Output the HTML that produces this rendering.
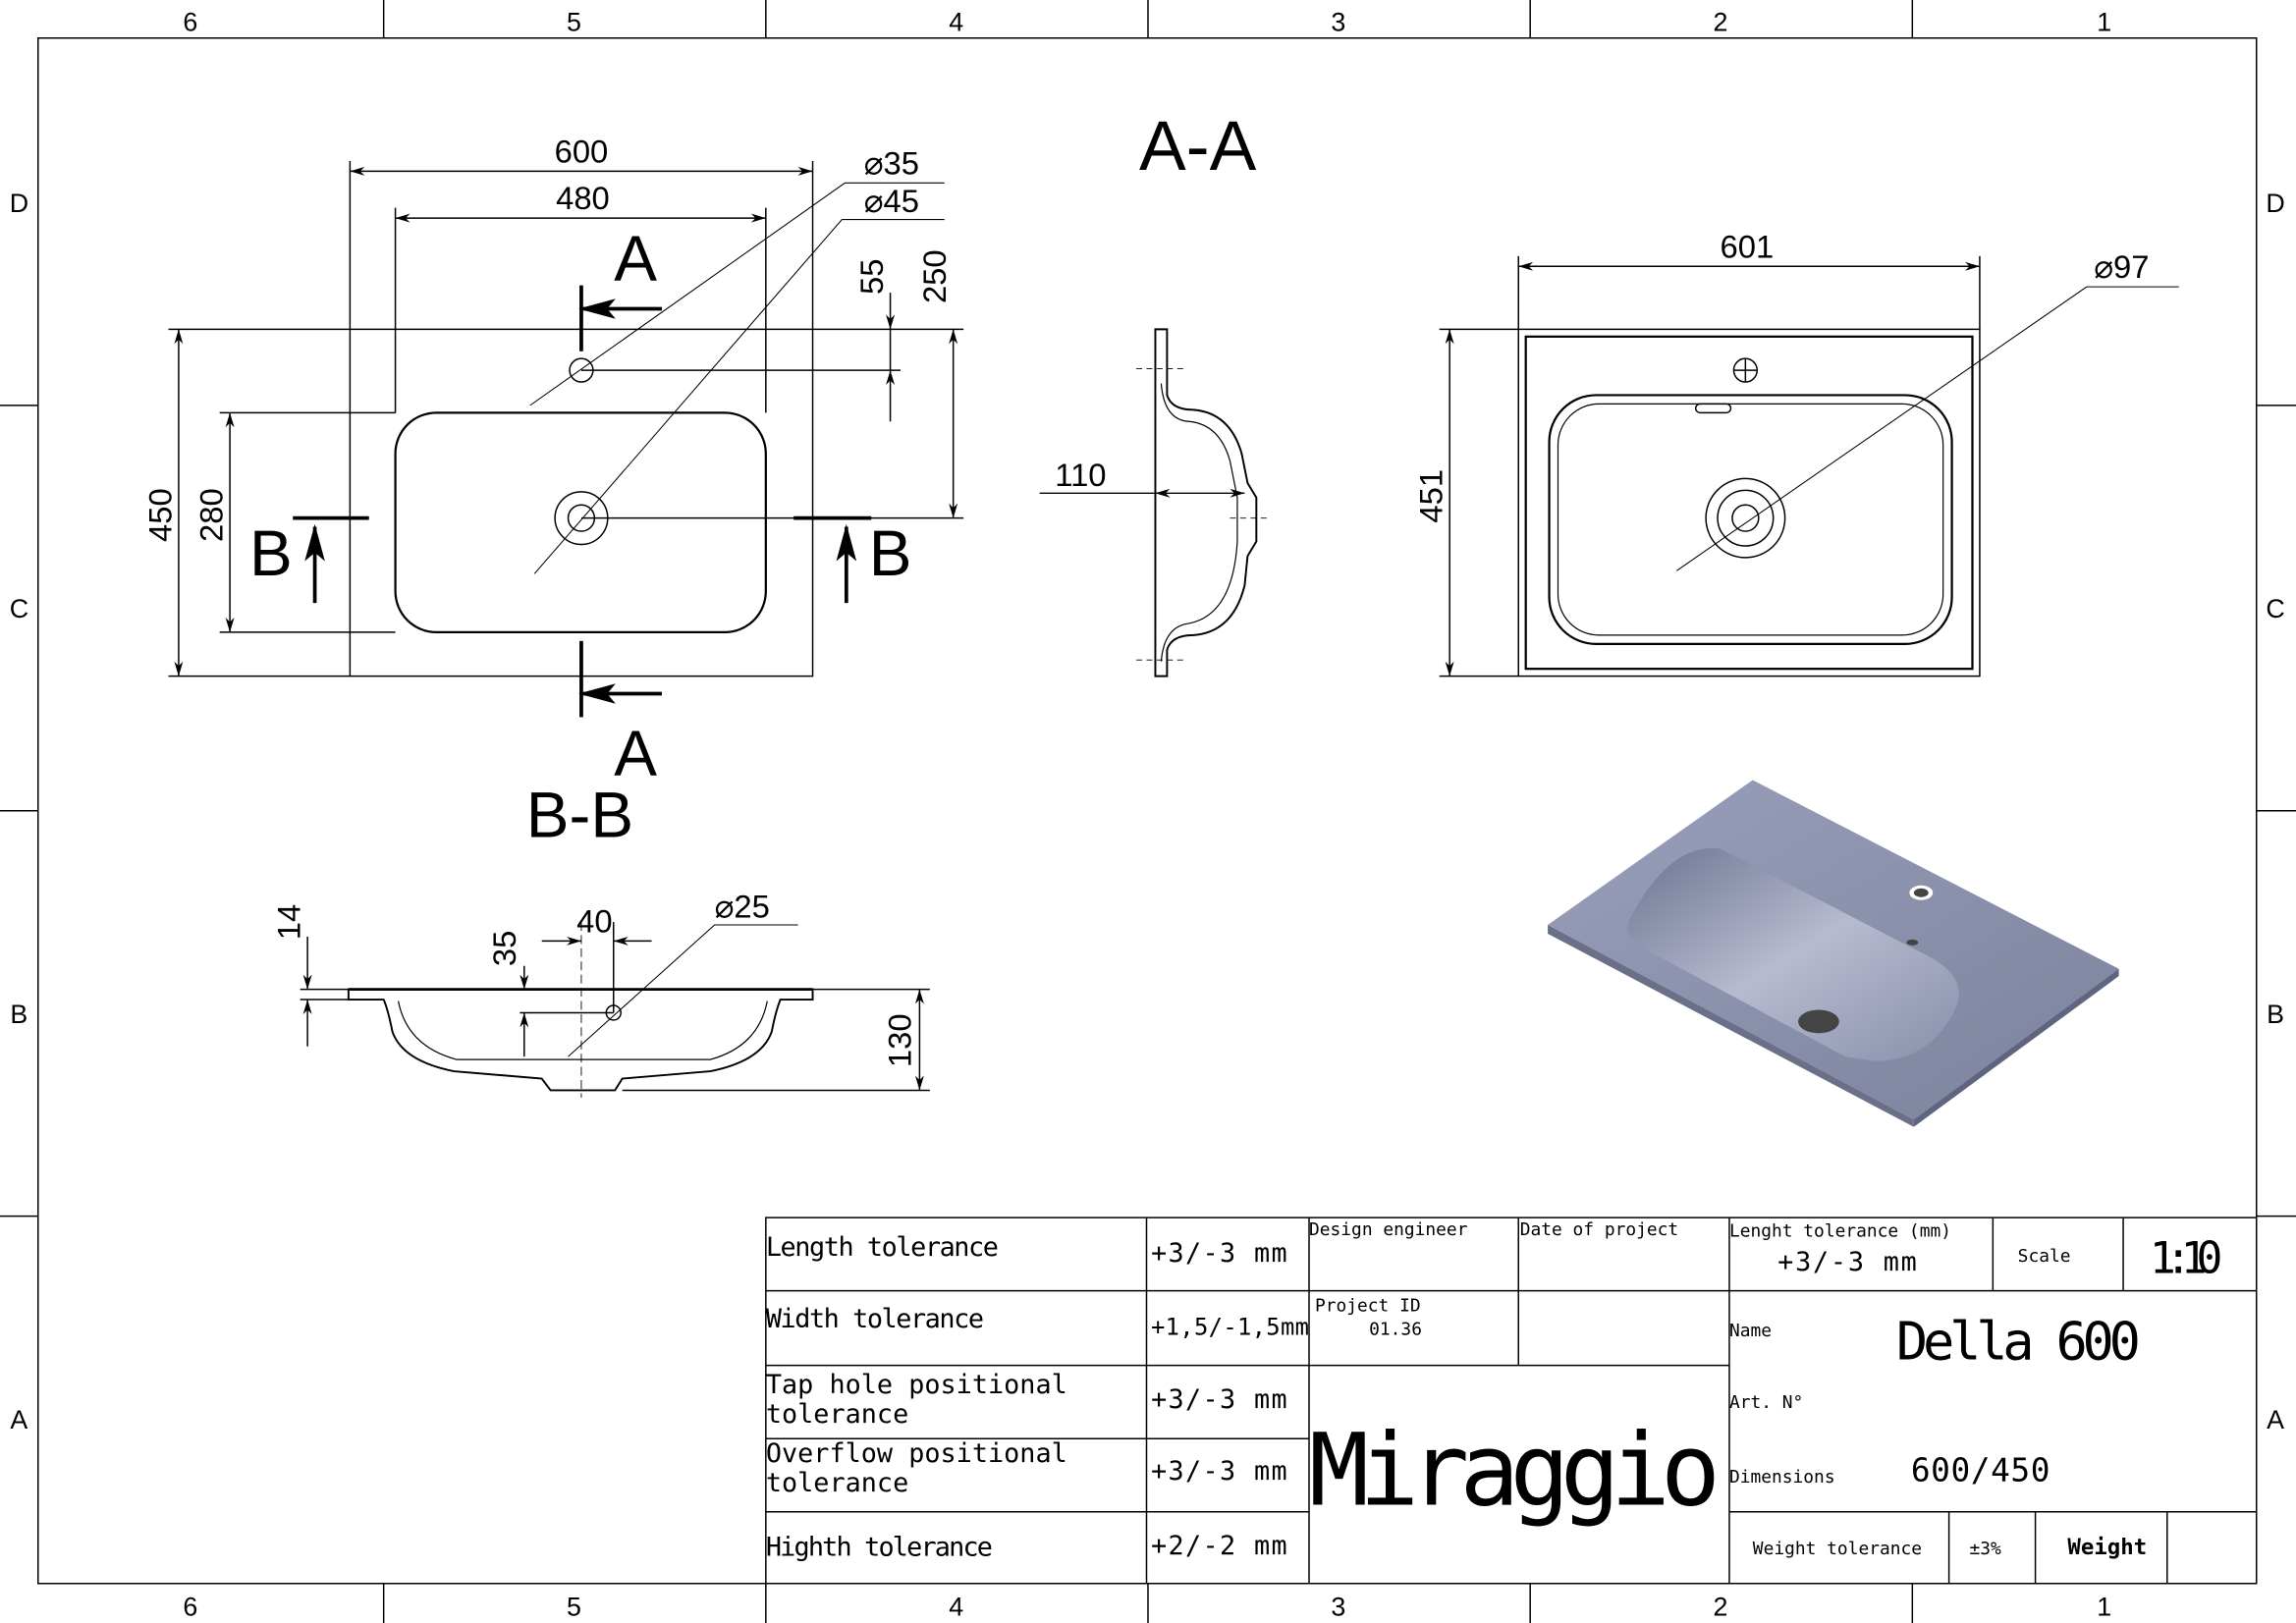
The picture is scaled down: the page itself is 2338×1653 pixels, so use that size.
<!DOCTYPE html>
<html><head><meta charset="utf-8"><style>
html,body{margin:0;padding:0;background:#fff;}
svg{display:block;}
text{font-family:"Liberation Sans",sans-serif;fill:#000;}
text.m{font-family:"DejaVu Sans Mono","Liberation Mono",monospace;}
</style></head><body>
<svg width="2338" height="1653" viewBox="0 0 1568 1109" preserveAspectRatio="none" xmlns="http://www.w3.org/2000/svg">
<defs>
<marker id="a" viewBox="0 0 10 6" refX="10" refY="3" markerWidth="10" markerHeight="6" orient="auto-start-reverse" markerUnits="userSpaceOnUse"><path d="M0,0 L10,3 L0,6 L3,3 z" fill="#000"/></marker>
<linearGradient id="g" x1="0" y1="0" x2="1" y2="1"><stop offset="0" stop-color="#9aa0bb"/><stop offset="1" stop-color="#7c819c"/></linearGradient>
<linearGradient id="g2" x1="0" y1="0" x2="1" y2="1"><stop offset="0" stop-color="#6d7290"/><stop offset="0.5" stop-color="#b6bbd0"/><stop offset="1" stop-color="#8a8fab"/></linearGradient>
</defs>
<g fill="none" stroke="#000" stroke-width="1">
<rect x="26" y="26" width="1515" height="1056"/>
<line x1="262" y1="0" x2="262" y2="26"/><line x1="523" y1="0" x2="523" y2="26"/><line x1="784" y1="0" x2="784" y2="26"/><line x1="1045" y1="0" x2="1045" y2="26"/><line x1="1306" y1="0" x2="1306" y2="26"/>
<line x1="262" y1="1082" x2="262" y2="1109"/><line x1="523" y1="1082" x2="523" y2="1109"/><line x1="784" y1="1082" x2="784" y2="1109"/><line x1="1045" y1="1082" x2="1045" y2="1109"/><line x1="1306" y1="1082" x2="1306" y2="1109"/>
<line x1="0" y1="277" x2="26" y2="277"/><line x1="0" y1="554" x2="26" y2="554"/><line x1="0" y1="831" x2="26" y2="831"/>
<line x1="1541" y1="277" x2="1568" y2="277"/><line x1="1541" y1="554" x2="1568" y2="554"/><line x1="1541" y1="831" x2="1568" y2="831"/>

<rect x="239" y="225" width="316" height="237"/>
<rect x="270" y="282" width="253" height="150" rx="28" stroke-width="1.5"/>
<circle cx="397" cy="253" r="8"/><circle cx="397" cy="354" r="18"/><circle cx="397" cy="354" r="9"/>
<line x1="239" y1="110" x2="239" y2="225"/><line x1="555" y1="110" x2="555" y2="225"/>
<line x1="239" y1="117" x2="555" y2="117" marker-start="url(#a)" marker-end="url(#a)"/>
<line x1="270" y1="142" x2="270" y2="282"/><line x1="523" y1="142" x2="523" y2="282"/>
<line x1="270" y1="149" x2="523" y2="149" marker-start="url(#a)" marker-end="url(#a)"/>
<line x1="115" y1="225" x2="239" y2="225"/><line x1="115" y1="462" x2="239" y2="462"/>
<line x1="122" y1="225" x2="122" y2="462" marker-start="url(#a)" marker-end="url(#a)"/>
<line x1="150" y1="282" x2="270" y2="282"/><line x1="150" y1="432" x2="270" y2="432"/>
<line x1="157" y1="282" x2="157" y2="432" marker-start="url(#a)" marker-end="url(#a)"/>
<line x1="555" y1="225" x2="658" y2="225"/><line x1="397" y1="354" x2="658" y2="354"/><line x1="397" y1="253" x2="615" y2="253"/>
<line x1="651" y1="225" x2="651" y2="354" marker-start="url(#a)" marker-end="url(#a)"/>
<line x1="608" y1="200" x2="608" y2="225" marker-end="url(#a)"/><line x1="608" y1="288" x2="608" y2="253" marker-end="url(#a)"/>
<line x1="608" y1="225" x2="608" y2="253"/>
<polyline points="362,277 577,125 645,125" stroke-width="0.7"/>
<polyline points="365,392 575,150 645,150" stroke-width="0.7"/>
<g stroke-width="2.5"><line x1="397" y1="195" x2="397" y2="240"/><line x1="397" y1="438" x2="397" y2="490"/>
<line x1="200" y1="354" x2="252" y2="354"/><line x1="542" y1="354" x2="595" y2="354"/>
<line x1="397" y1="211" x2="452" y2="211"/><line x1="397" y1="474" x2="452" y2="474"/>
<line x1="215" y1="360" x2="215" y2="412"/><line x1="578" y1="360" x2="578" y2="412"/></g>
<path d="M397,211 l22,-6 l-5,6 l5,6z M397,474 l22,-6 l-5,6 l5,6z M215,360 l-6,22 l6,-5 l6,5z M578,360 l-6,22 l6,-5 l6,5z" fill="#000"/>

<path d="M789,225 L797,225 L797,270 Q800,280 815,280 Q840,282 848,310 L852,330 L858,340 L858,370 L852,380 L850,400 Q842,432 815,434 Q800,434 797,444 L797,462 L789,462 Z" stroke-width="1.3"/>
<path d="M793,262 Q795,287 812,288 Q833,290 840,315 L845,340 L845,370 Q842,420 812,426 Q795,428 793,452" stroke-width="0.8"/>
<line x1="776" y1="252" x2="810" y2="252" stroke-dasharray="4 3" stroke-width="0.6"/>
<line x1="776" y1="451" x2="810" y2="451" stroke-dasharray="4 3" stroke-width="0.6"/>
<line x1="840" y1="354" x2="866" y2="354" stroke-dasharray="4 3" stroke-width="0.6"/>
<line x1="710" y1="337" x2="789" y2="337"/>
<line x1="789" y1="337" x2="850" y2="337" marker-start="url(#a)" marker-end="url(#a)"/>

<rect x="1037" y="225" width="315" height="237"/>
<rect x="1042" y="230" width="305" height="227" stroke-width="1.5"/>
<rect x="1058" y="270" width="275" height="170" rx="32" stroke-width="1.5"/>
<rect x="1064" y="276" width="263" height="158" rx="28" stroke-width="0.8"/>
<circle cx="1192" cy="253" r="8"/><line x1="1184" y1="253" x2="1200" y2="253"/><line x1="1192" y1="245" x2="1192" y2="261"/>
<rect x="1158" y="276" width="24" height="6" rx="3"/>
<circle cx="1192" cy="354" r="27"/><circle cx="1192" cy="354" r="19"/><circle cx="1192" cy="354" r="9"/>
<line x1="1037" y1="175" x2="1037" y2="225"/><line x1="1352" y1="175" x2="1352" y2="225"/>
<line x1="1037" y1="182" x2="1352" y2="182" marker-start="url(#a)" marker-end="url(#a)"/>
<line x1="983" y1="225" x2="1037" y2="225"/><line x1="983" y1="462" x2="1037" y2="462"/>
<line x1="990" y1="225" x2="990" y2="462" marker-start="url(#a)" marker-end="url(#a)"/>
<polyline points="1145,390 1425,196 1488,196" stroke-width="0.7"/>

<path d="M238,676 L238,683 L262,683 Q265,690 268,705 Q275,725 310,732 L370,737 L376,745 L420,745 L425,737 L485,732 Q520,725 527,705 Q530,690 533,683 L555,683 L555,676 Z" stroke-width="1.3"/>
<line x1="238" y1="676" x2="555" y2="676" stroke-width="1.8"/>
<path d="M272,684 Q278,715 312,724 L485,724 Q518,715 524,684" stroke-width="0.8"/>
<circle cx="419" cy="692" r="5"/>
<line x1="205" y1="676" x2="238" y2="676"/><line x1="205" y1="683" x2="238" y2="683"/>
<line x1="210" y1="640" x2="210" y2="676" marker-end="url(#a)"/><line x1="210" y1="715" x2="210" y2="683" marker-end="url(#a)"/>
<line x1="555" y1="676" x2="635" y2="676"/><line x1="425" y1="745" x2="635" y2="745"/>
<line x1="628" y1="676" x2="628" y2="745" marker-start="url(#a)" marker-end="url(#a)"/>
<line x1="355" y1="692" x2="419" y2="692"/>
<line x1="358" y1="660" x2="358" y2="676" marker-end="url(#a)"/><line x1="358" y1="722" x2="358" y2="692" marker-end="url(#a)"/>
<line x1="397" y1="630" x2="397" y2="750" stroke-dasharray="6 3" stroke-width="0.6"/>
<line x1="419" y1="630" x2="419" y2="692"/>
<line x1="370" y1="643" x2="397" y2="643" marker-end="url(#a)"/><line x1="445" y1="643" x2="419" y2="643" marker-end="url(#a)"/>
<polyline points="388,722 488,632 545,632" stroke-width="0.7"/>

<rect x="523" y="832" width="1018" height="250"/>
<line x1="523" y1="882" x2="894" y2="882"/><line x1="523" y1="933" x2="1181" y2="933"/><line x1="523" y1="983" x2="894" y2="983"/><line x1="523" y1="1033" x2="894" y2="1033"/>
<line x1="783" y1="832" x2="783" y2="1082"/><line x1="894" y1="832" x2="894" y2="1082"/>
<line x1="894" y1="882" x2="1181" y2="882"/>
<line x1="1037" y1="832" x2="1037" y2="933"/><line x1="1181" y1="832" x2="1181" y2="1082"/>
<line x1="1361" y1="832" x2="1361" y2="882"/><line x1="1450" y1="832" x2="1450" y2="882"/>
<line x1="1181" y1="882" x2="1541" y2="882"/><line x1="1181" y1="1033" x2="1541" y2="1033"/>
<line x1="1331" y1="1033" x2="1331" y2="1082"/><line x1="1390" y1="1033" x2="1390" y2="1082"/><line x1="1480" y1="1033" x2="1480" y2="1082"/>
</g>

<polygon points="1057,632 1197,533 1447,662 1307,765" fill="url(#g)"/>
<polygon points="1057,632 1307,765 1307,770 1057,638" fill="#6b7089"/>
<polygon points="1307,765 1447,662 1447,667 1307,770" fill="#5f6480"/>
<path d="M1112,630 Q1140,575 1175,580 L1320,655 Q1345,670 1335,690 Q1318,725 1280,725 L1260,722 L1130,652 Q1108,642 1112,630 Z" fill="url(#g2)"/>
<ellipse cx="1312" cy="610" rx="8" ry="5" fill="#fff"/><ellipse cx="1312" cy="610" rx="5" ry="3" fill="#444"/>
<ellipse cx="1242" cy="698" rx="14" ry="8" fill="#444"/>
<ellipse cx="1306" cy="644" rx="4" ry="2" fill="#444"/>

<g font-size="18" text-anchor="middle">
<text x="130" y="21">6</text><text x="392" y="21">5</text><text x="653" y="21">4</text><text x="914" y="21">3</text><text x="1175" y="21">2</text><text x="1437" y="21">1</text>
<text x="130" y="1104">6</text><text x="392" y="1104">5</text><text x="653" y="1104">4</text><text x="914" y="1104">3</text><text x="1175" y="1104">2</text><text x="1437" y="1104">1</text>
<text x="13" y="145">D</text><text x="13" y="422">C</text><text x="13" y="699">B</text><text x="13" y="976">A</text>
<text x="1554" y="145">D</text><text x="1554" y="422">C</text><text x="1554" y="699">B</text><text x="1554" y="976">A</text>
</g>
<g font-size="22" text-anchor="middle">
<text x="397" y="111">600</text><text x="398" y="143">480</text>
<text x="1193" y="176">601</text><text x="738" y="332">110</text><text x="406" y="637">40</text>
<text transform="translate(117,352) rotate(-90)">450</text>
<text transform="translate(152,352) rotate(-90)">280</text>
<text transform="translate(603,189) rotate(-90)">55</text>
<text transform="translate(646,189) rotate(-90)">250</text>
<text transform="translate(985,339) rotate(-90)">451</text>
<text transform="translate(205,630) rotate(-90)">14</text>
<text transform="translate(352,648) rotate(-90)">35</text>
<text transform="translate(622,711) rotate(-90)">130</text>
</g>
<g font-size="22"><text x="590" y="119">⌀35</text><text x="590" y="145">⌀45</text><text x="1430" y="190">⌀97</text><text x="488" y="627">⌀25</text></g>
<g font-size="44" text-anchor="middle"><text x="434" y="192">A</text><text x="434" y="530">A</text><text x="185" y="393">B</text><text x="608" y="393">B</text>
<text x="818" y="116" font-size="48">A-A</text><text x="396" y="572">B-B</text></g>

<g font-size="18">
<text class="m" x="523" y="858" textLength="159">Length tolerance</text><text class="m" x="523" y="907" textLength="149">Width tolerance</text>
<text class="m" x="523" y="952">Tap hole positional</text><text class="m" x="523" y="972">tolerance</text>
<text class="m" x="523" y="999">Overflow positional</text><text class="m" x="523" y="1019">tolerance</text>
<text class="m" x="523" y="1063" textLength="155">Highth tolerance</text>
<text class="m" x="786" y="862" textLength="93">+3/-3 mm</text><text class="m" x="786" y="912" font-size="16" textLength="108">+1,5/-1,5mm</text><text class="m" x="786" y="962" textLength="93">+3/-3 mm</text><text class="m" x="786" y="1011" textLength="93">+3/-3 mm</text><text class="m" x="786" y="1062" textLength="93">+2/-2 mm</text>
</g>
<g font-size="12">
<text class="m" x="894" y="844">Design engineer</text><text class="m" x="1038" y="844">Date of project</text>
<text class="m" x="898" y="896">Project ID</text><text class="m" x="935" y="912">01.36</text>
<text class="m" x="1181" y="845">Lenght tolerance (mm)</text><text class="m" x="1378" y="862">Scale</text>
<text class="m" x="1181" y="913">Name</text><text class="m" x="1181" y="962">Art. N°</text><text class="m" x="1181" y="1013">Dimensions</text>
<text class="m" x="1197" y="1062">Weight tolerance</text><text class="m" x="1345" y="1062">±3%</text><text class="m" x="1412" y="1062" font-size="15" font-weight="bold">Weight</text>
</g>
<text class="m" x="1214" y="868" font-size="18" textLength="95">+3/-3 mm</text>
<text class="m" x="1468" y="870" font-size="30" textLength="50">1:10</text>
<text class="m" x="1295" y="929" font-size="36" textLength="167">Della 600</text>
<text class="m" x="1305" y="1012" font-size="22" textLength="95">600/450</text>
<text class="m" x="894" y="1028" font-size="68" textLength="281">Miraggio</text>
</svg>
</body></html>
